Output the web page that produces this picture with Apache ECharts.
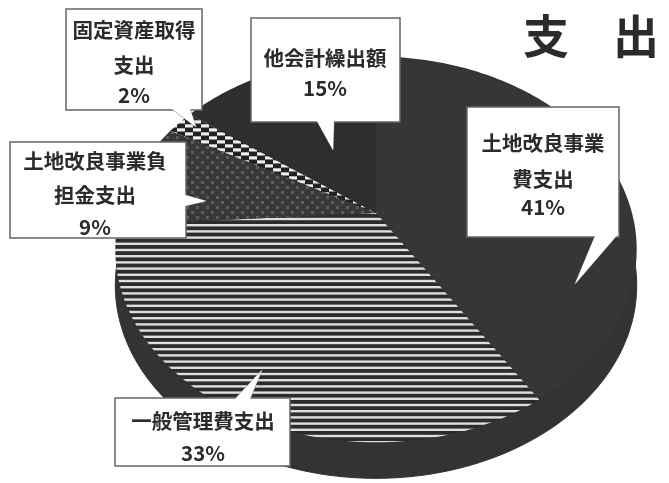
<!DOCTYPE html>
<html><head><meta charset="utf-8">
<style>html,body{margin:0;padding:0;background:#fff}#c{width:669px;height:483px}</style>
<script src="https://cdn.jsdelivr.net/npm/echarts@6/dist/echarts.min.js"></script>
</head><body><div id="c"></div>
<script>
const categories = ['土地改良事業費支出','一般管理費支出','土地改良事業負担金支出','固定資産取得支出','他会計繰出額'];
const values = [41,33,9,2,15];
const calloutLines = [
  ['土地改良事業','費支出','41%'],
  ['一般管理費支出','33%'],
  ['土地改良事業負','担金支出','9%'],
  ['固定資産取得','支出','2%'],
  ['他会計繰出額','15%']
];
const titleChars = ['支','出'];

function pat(w,h,draw){const c=document.createElement('canvas');c.width=w;c.height=h;const g=c.getContext('2d');draw(g);return {image:c,repeat:'repeat'};}
const stripes=pat(8,31,g=>{g.fillStyle='#2c2c2c';g.fillRect(0,0,8,31);g.fillStyle='#dedede';for(let i=0;i<5;i++){g.fillRect(0,i*6.2+0.8,8,2.4);}});
const dots=pat(10,10,g=>{g.fillStyle='#383838';g.fillRect(0,0,10,10);g.fillStyle='#5c5c5c';g.fillRect(1,1,3,3);g.fillRect(6,6,3,3);});
const checks=pat(16,8,g=>{g.fillStyle='#222';g.fillRect(0,0,16,8);g.fillStyle='#efefef';g.fillRect(1,0.3,8,3.2);g.fillRect(9,4.3,7,3.2);g.fillRect(0,4.3,1,3.2);});
const fills=['#363636',stripes,dots,checks,'#2e2e2e'];

// perspective of a tilted disk
const cx=376,cy=213,A=256,B=186,k=0.189,depth=36;
function proj(a){const u=Math.sin(a),v=-Math.cos(a),w=1-k*v;return [cx+A*u/w,cy+B*v/w];}
const total=values.reduce((s,x)=>s+x,0);
function slicePts(i,dy){
  let s=0;for(let j=0;j<i;j++)s+=values[j];
  const a0=s/total*2*Math.PI,a1=(s+values[i])/total*2*Math.PI;
  const pts=[[cx,cy+dy]];const n=Math.max(6,Math.round(values[i]*3));
  for(let t=0;t<=n;t++){const p=proj(a0+(a1-a0)*t/n);pts.push([p[0],p[1]+dy]);}
  return pts;
}
function box(x,y,w,h,tail){
  return [
    {type:'polygon',shape:{points:tail},style:{fill:'#fff',stroke:'#777',lineWidth:1},z:10},
    {type:'rect',shape:{x,y,width:w,height:h},style:{fill:'#fff',stroke:'#666',lineWidth:1.5},z:11},
    {type:'polygon',shape:{points:tail},style:{fill:'#fff'},z:12}
  ];
}
function txt(s,x,y,size){return {type:'text',x,y,z:13,style:{text:s,x:0,y:0,fill:'#2b2b2b',align:'center',verticalAlign:'middle',font:'bold '+size+'px "Noto Sans CJK JP"'}};}

const els=[];
els.push(...box(467,107,152,130,[[595,236],[575,284],[619,233]]));
els.push(...box(115,398,175,68,[[235,399],[262,370],[250,399]]));
els.push(...box(10,142,176,96,[[185,195],[206,201],[185,206]]));
els.push(...box(66,9,136,101,[[172,109],[196,127],[190,109]]));
els.push(...box(251,18,149,104,[[317,121],[333,150],[334,121]]));
const L=calloutLines;
[[L[0][0],543,143],[L[0][1],543,179],[L[0][2],543,207],
 [L[1][0],203,421],[L[1][1],203,453],
 [L[2][0],95,161],[L[2][1],95,195],[L[2][2],95,227],
 [L[3][0],134,30],[L[3][1],134,65],[L[3][2],134,95],
 [L[4][0],325,58],[L[4][1],325,88]
].forEach(a=>els.push(txt(a[0],a[1],a[2],20.5)));
els.push(txt(titleChars[0],546,36,46),txt(titleChars[1],636,36,46));

const chart=echarts.init(document.getElementById('c'),null,{renderer:'canvas'});
const seriesData=values.map((v,i)=>({name:categories[i],value:v}));
chart.setOption({
  animation:false,backgroundColor:'#fff',
  graphic:{elements:els},
  series:[
   {type:'custom',coordinateSystem:'none',z:1,silent:true,data:seriesData,
    renderItem(p){return {type:'polygon',shape:{points:slicePts(p.dataIndex,depth)},style:{fill:'#333',stroke:'#333',lineWidth:1}};}},
   {type:'custom',coordinateSystem:'none',z:1,silent:true,data:[1],
    renderItem(){const r=proj(Math.PI/2),l=proj(3*Math.PI/2);
      return {type:'polygon',shape:{points:[r,[r[0],r[1]+depth],[l[0],l[1]+depth],l]},style:{fill:'#333'}};}},
   {type:'custom',coordinateSystem:'none',z:2,silent:true,data:seriesData,
    renderItem(p){return {type:'polygon',shape:{points:slicePts(p.dataIndex,0)},style:{fill:fills[p.dataIndex]}};}}
  ]
});
</script></body></html>
